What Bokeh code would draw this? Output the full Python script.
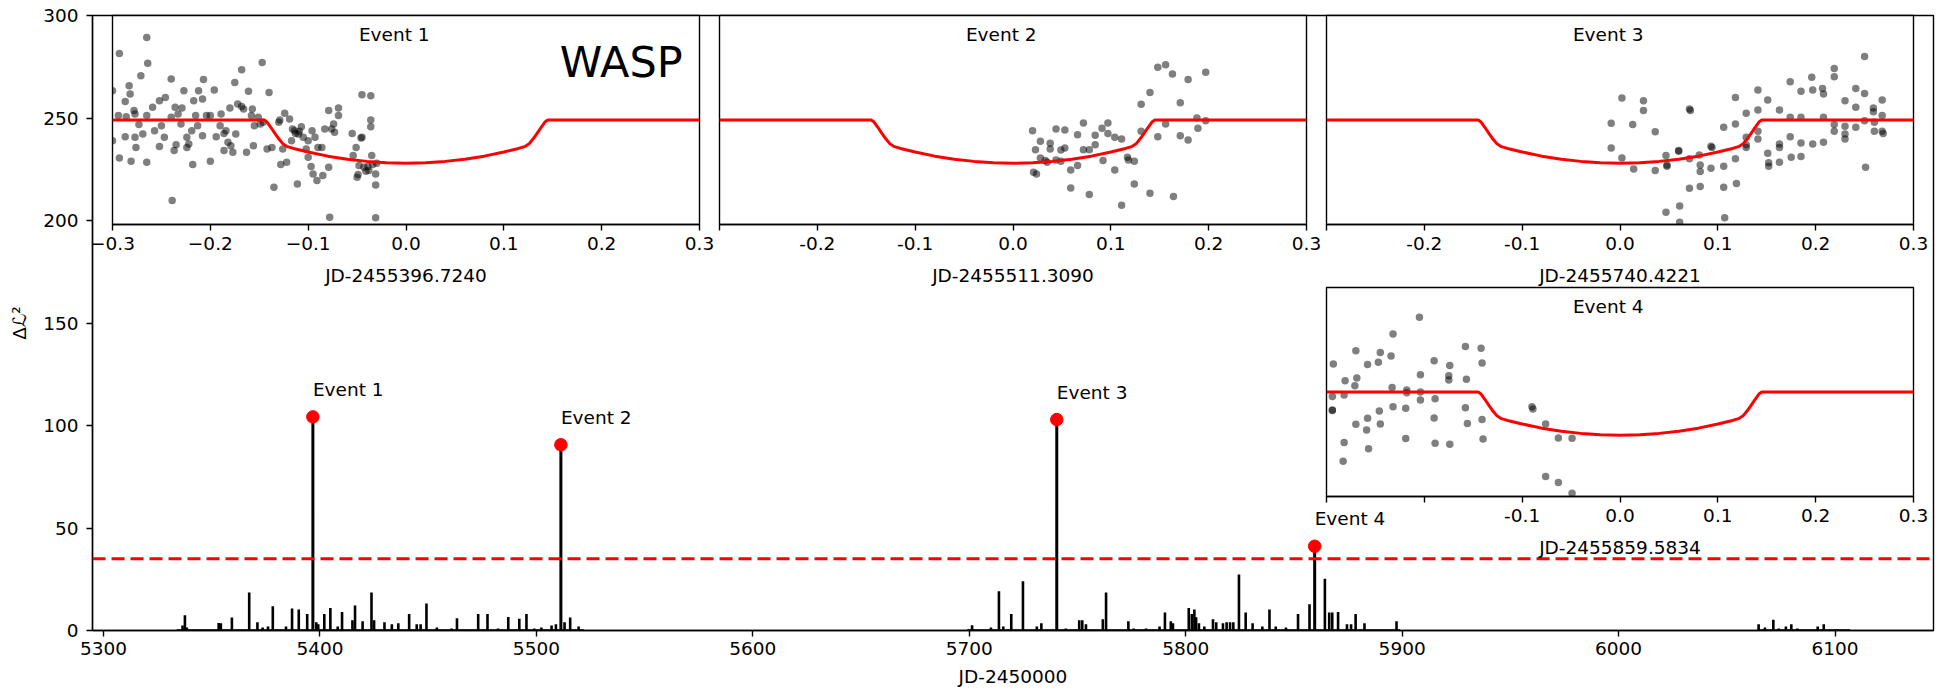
from bokeh.plotting import figure
from bokeh.models import Range1d, Span, Label, FixedTicker, CustomJSTickFormatter, Column
from bokeh.embed import file_html
from bokeh.resources import INLINE
from bokeh.core.properties import value

FONT = "DejaVu Sans"
FS = "18.5px"

# ---------------- main panel data ----------------
x_ticks = [5300, 5400, 5500, 5600, 5700, 5800, 5900, 6000, 6100]
y_ticks = [0, 50, 100, 150, 200, 250, 300]

event_labels = ["Event 1", "Event 2", "Event 3", "Event 4"]
event_t = [5396.724, 5511.309, 5740.4221, 5859.5834]
event_dl2 = [104.2, 90.6, 102.9, 41.1]
threshold = 35.0

spike_t = [
    5336.5, 5337.6, 5338.5, 5353.2, 5354.2, 5359.3, 5367.3, 5371.1, 5373.5, 5376.0,
    5378.2, 5384.3, 5387.1, 5390.2, 5394.1, 5398.3, 5399.2, 5402.0, 5404.8, 5408.2,
    5410.2, 5415.0, 5416.2, 5419.7, 5423.8, 5425.0, 5429.8, 5433.2, 5436.2, 5441.2,
    5444.7, 5446.5, 5449.2, 5454.0, 5460.8, 5463.3, 5473.1, 5477.4, 5482.3, 5487.0,
    5492.1, 5495.4, 5499.0, 5502.3, 5507.0, 5509.0, 5513.0, 5515.6, 5519.5,
    5701.3, 5710.0, 5713.7, 5715.7, 5719.4, 5724.8, 5731.2, 5733.3, 5744.6, 5750.8,
    5752.2, 5753.9, 5761.7, 5763.2, 5773.5, 5776.0, 5781.7, 5787.9, 5790.4, 5793.1,
    5794.1, 5801.4, 5802.8, 5804.0, 5804.8, 5806.1, 5808.6, 5812.6, 5814.1, 5817.2,
    5818.9, 5820.5, 5822.0, 5824.6, 5827.7, 5830.9, 5835.4, 5838.7, 5841.6, 5846.3,
    5851.9, 5857.2, 5864.3, 5866.3, 5867.7, 5870.4, 5874.5, 5876.4, 5878.5, 5882.6,
    5897.4,
    6064.7, 6067.6, 6071.5, 6074.0, 6077.3, 6079.8, 6082.6, 6092.0, 6094.8, 6100.5]
spike_dl2 = [
    2.5, 7.5, 1.5, 3.7, 3.5, 6.4, 18.5, 4.0, 1.5, 2.0,
    11.8, 2.0, 10.7, 10.2, 8.0, 4.0, 3.0, 8.0, 11.0, 2.0,
    9.0, 5.0, 12.2, 4.5, 18.5, 5.0, 4.0, 3.0, 3.5, 8.0,
    3.0, 3.0, 13.2, 1.5, 1.0, 6.0, 8.0, 8.0, 1.0, 6.6,
    5.7, 8.0, 1.0, 1.5, 2.5, 3.0, 4.0, 6.3, 2.0,
    2.6, 1.5, 19.2, 2.0, 8.0, 24.0, 2.0, 3.5, 1.0, 5.0,
    5.0, 3.0, 5.5, 18.5, 4.5, 1.0, 1.0, 2.0, 8.8, 4.5,
    3.5, 11.0, 8.0, 10.2, 6.5, 3.5, 2.0, 5.5, 4.0, 3.5,
    4.0, 4.0, 4.0, 27.3, 8.8, 3.5, 2.0, 10.3, 2.0, 1.5,
    8.0, 12.8, 25.3, 8.8, 8.8, 9.0, 3.0, 3.0, 8.0, 3.5,
    4.5,
    3.0, 1.5, 5.3, 1.0, 2.0, 3.0, 1.0, 2.0, 3.0, 0.5]

cov_start = [5333.8, 5699.0, 6064.0]
cov_end = [5522.0, 5899.0, 6107.0]

# ---------------- inset data (time from mid-event in days, relative flux in ppt) ----------------
inset_ticks = [-0.3, -0.2, -0.1, 0.0, 0.1, 0.2, 0.3]
inset_titles = ["Event 1", "Event 2", "Event 3", "Event 4"]
inset_xlabels = ["JD-2455396.7240", "JD-2455511.3090", "JD-2455740.4221", "JD-2455859.5834"]

model_t = [-0.30, -0.145, -0.142, -0.138, -0.134, -0.130, -0.126, -0.122, -0.115, -0.100,
           -0.080, -0.060, -0.040, -0.020, 0.0, 0.020, 0.040, 0.060, 0.080, 0.100,
           0.115, 0.122, 0.126, 0.130, 0.134, 0.138, 0.142, 0.145, 0.30]
model_v = [0.0, 0.0, -1.0, -3.6, -6.4, -9.0, -11.3, -12.6, -13.6, -15.3,
           -17.3, -18.8, -19.8, -20.5, -20.7, -20.5, -19.8, -18.8, -17.3, -15.3,
           -13.6, -12.6, -11.3, -9.0, -6.4, -3.6, -1.0, 0.0, 0.0]

t1 = [-0.300, -0.300, -0.293, -0.294, -0.293, -0.287, -0.287, -0.286, -0.283, -0.282,
      -0.281, -0.278, -0.277, -0.277, -0.276, -0.273, -0.271, -0.269, -0.265, -0.265,
      -0.264, -0.265, -0.259, -0.257, -0.252, -0.252, -0.250, -0.247, -0.246, -0.240,
      -0.240, -0.239, -0.237, -0.236, -0.235, -0.233, -0.230, -0.229, -0.227, -0.224,
      -0.224, -0.222, -0.219, -0.218, -0.217, -0.215, -0.212, -0.213, -0.208, -0.208,
      -0.207, -0.204, -0.200, -0.200, -0.196, -0.194, -0.190, -0.189, -0.186, -0.186,
      -0.184, -0.182, -0.180, -0.179, -0.177, -0.175, -0.174, -0.172, -0.168, -0.168,
      -0.166, -0.163, -0.161, -0.158, -0.157, -0.156, -0.155, -0.151, -0.149, -0.147,
      -0.146, -0.142, -0.140, -0.137, -0.135, -0.130, -0.129, -0.128, -0.126, -0.124,
      -0.122, -0.119, -0.117, -0.116, -0.114, -0.113, -0.111, -0.110, -0.109, -0.107,
      -0.105, -0.102, -0.100, -0.100, -0.097, -0.096, -0.095, -0.093, -0.091, -0.090,
      -0.086, -0.085, -0.083, -0.079, -0.079, -0.078, -0.076, -0.074, -0.073, -0.069,
      -0.069, -0.055, -0.054, -0.051, -0.050, -0.049, -0.048, -0.046, -0.045, -0.045,
      -0.043, -0.041, -0.039, -0.038, -0.036, -0.036, -0.036, -0.035, -0.034, -0.031,
      -0.031, -0.031, -0.030]
v1 = [14.0, -9.9, 31.8, 2.1, -18.2, 8.9, -8.0, 1.6, 16.4, 12.4,
      -19.7, 4.5, 2.9, -8.3, -13.1, -2.2, 21.2, -6.7, 39.5, 2.1,
      27.1, -20.2, 6.1, -5.1, 9.2, -12.7, -2.7, -8.3, 10.8, 19.6,
      1.3, -38.5, -14.6, 6.1, -11.8, 2.9, -1.9, 5.7, 14.0, -8.3,
      -13.1, -11.5, -5.1, -21.3, 9.2, 2.1, 14.0, -2.7, 10.0, -7.5,
      19.4, 2.1, -19.7, 2.1, 14.3, -8.0, -2.7, 2.9, -6.4, -14.6,
      -5.1, -10.7, 5.7, -12.3, -15.4, 18.0, -6.7, 7.6, 24.0, 6.4,
      5.3, -15.4, 13.7, 2.1, 5.3, -12.3, -2.7, 1.3, -1.9, 27.5,
      -1.1, -13.9, 13.2, -13.1, -32.2, -1.1, 0.0, -21.3, -13.9, 3.2,
      -20.2, 0.5, -9.9, -4.3, -5.1, -6.4, -30.6, -6.7, -5.4, -3.2,
      -8.3, -13.9, -9.9, -17.8, -22.3, -5.1, -25.8, -8.3, -29.0, -13.1,
      -13.1, -26.6, -4.3, 4.5, -22.6, -46.5, -4.3, -1.9, -5.9, 5.7,
      2.1, -6.4, -17.0, -13.1, -27.4, -26.1, -21.8, -8.6, 12.1, -8.3,
      -22.6, -24.5, -22.3, -24.2, 11.6, 0.0, -3.2, -17.0, -21.3, -25.8,
      -31.1, -46.8, -20.7]

t2 = [0.020, 0.023, 0.021, 0.024, 0.028, 0.028, 0.033, 0.035, 0.038, 0.038,
      0.044, 0.044, 0.049, 0.049, 0.053, 0.053, 0.059, 0.059, 0.066, 0.066,
      0.072, 0.072, 0.078, 0.078, 0.084, 0.084, 0.091, 0.092, 0.097, 0.097,
      0.104, 0.104, 0.111, 0.111, 0.117, 0.118, 0.124, 0.124, 0.131, 0.131,
      0.140, 0.140, 0.148, 0.148, 0.156, 0.156, 0.163, 0.164, 0.171, 0.171,
      0.179, 0.179, 0.188, 0.189, 0.197, 0.197]
v2 = [-5.1, -14.2, -25.0, -25.8, -10.2, -18.2, -19.4, -20.2, -11.1, -13.9,
      -4.3, -19.1, -14.3, -19.7, -4.8, -13.4, -23.9, -32.5, -7.0, -21.8,
      -1.4, -14.2, -14.2, -35.7, -7.3, -11.8, -4.0, -19.4, -1.4, -6.4,
      -8.3, -23.9, -9.1, -40.8, -17.8, -19.1, -19.7, -30.6, 7.5, -5.4,
      13.2, -35.0, 25.2, -8.0, 26.4, -1.9, 22.0, -36.6, 8.3, -7.5,
      19.4, -9.6, 1.0, -4.0, 22.8, -0.3]

t3 = [-0.009, -0.009, 0.002, 0.002, 0.013, 0.014, 0.024, 0.024, 0.036, 0.036,
      0.047, 0.047, 0.048, 0.048, 0.060, 0.060, 0.061, 0.061, 0.071, 0.072,
      0.071, 0.071, 0.081, 0.082, 0.082, 0.082, 0.093, 0.094, 0.093, 0.106,
      0.106, 0.106, 0.107, 0.118, 0.118, 0.118, 0.119, 0.129, 0.129, 0.129,
      0.129, 0.141, 0.141, 0.141, 0.141, 0.151, 0.151, 0.152, 0.152, 0.163,
      0.163, 0.163, 0.163, 0.174, 0.174, 0.174, 0.175, 0.185, 0.185, 0.185,
      0.185, 0.196, 0.197, 0.197, 0.207, 0.208, 0.208, 0.208, 0.219, 0.219,
      0.219, 0.219, 0.230, 0.230, 0.230, 0.230, 0.241, 0.241, 0.241, 0.250,
      0.250, 0.250, 0.251, 0.259, 0.259, 0.260, 0.260, 0.268, 0.268, 0.268,
      0.269]
v3 = [-1.6, -13.4, 10.5, -18.2, -2.2, -23.4, 9.2, 4.5, -5.6, -24.2,
      -17.0, -44.1, -21.5, -22.1, -14.6, -15.0, -41.1, -48.9, 5.3, 4.5,
      -18.6, -32.6, -16.7, -21.5, -24.7, -31.8, -12.6, -13.1, -23.1, -3.5,
      -22.1, -32.2, -46.8, 10.8, -1.9, -18.6, -30.4, 3.2, -8.3, -11.8,
      -13.1, 14.3, 4.8, -5.4, -9.1, 9.6, -15.9, -20.5, -22.1, 4.8,
      -11.5, -13.1, -20.2, 18.3, 1.3, -8.0, -17.8, 13.7, 1.3, -11.0,
      -17.5, 20.4, 14.3, -11.5, 15.1, 12.4, 1.3, -10.7, 24.7, 20.7,
      -2.2, -5.4, 9.2, -3.0, -6.7, -9.1, 15.1, 6.1, -3.5, 30.4,
      12.7, -0.3, -22.6, 5.7, 4.0, -1.1, -5.4, 9.6, 2.1, -5.4,
      -6.4]

t4 = [-0.293, -0.294, -0.294, -0.294, -0.282, -0.283, -0.281, -0.282, -0.271, -0.270,
      -0.269, -0.270, -0.258, -0.258, -0.259, -0.257, -0.247, -0.246, -0.245, -0.245,
      -0.234, -0.233, -0.232, -0.232, -0.219, -0.219, -0.218, -0.218, -0.205, -0.204,
      -0.204, -0.204, -0.190, -0.190, -0.189, -0.189, -0.175, -0.175, -0.174, -0.174,
      -0.158, -0.157, -0.158, -0.156, -0.142, -0.141, -0.141, -0.140, -0.090, -0.089,
      -0.076, -0.076, -0.063, -0.063, -0.049, -0.049]
v4 = [13.4, -2.2, -8.6, -8.9, -24.2, -33.1, 5.4, -1.4, 3.0, 19.7,
      6.7, -15.4, 13.2, -12.6, -18.2, -27.1, 14.2, -9.1, 18.9, -15.3,
      17.2, 2.2, -7.0, 27.7, -22.3, -7.8, 1.0, -0.3, 35.8, 8.3,
      0.0, -3.8, 15.0, -12.4, -3.2, -24.5, 7.8, 5.7, 12.7, -25.0,
      21.8, 6.1, -7.5, -15.1, 20.9, 13.9, -13.2, -22.5, -7.0, -8.1,
      -15.3, -40.4, -22.0, -43.3, -22.1, -48.4]

# ---------------- styling helpers ----------------
W, H = 1959, 692


def style_axis(ax, label_standoff=6, axis_standoff=6):
    ax.major_tick_out = 6
    ax.major_tick_in = 0
    ax.minor_tick_out = 0
    ax.minor_tick_in = 0
    ax.axis_line_color = "black"
    ax.axis_line_width = 1.4
    ax.major_tick_line_color = "black"
    ax.major_tick_line_width = 1.4
    ax.major_label_text_font = FONT
    ax.major_label_text_font_size = FS
    ax.major_label_text_color = "black"
    ax.major_label_standoff = label_standoff
    ax.axis_label_text_font = FONT
    ax.axis_label_text_font_size = FS
    ax.axis_label_text_font_style = "normal"
    ax.axis_label_text_color = "black"
    ax.axis_label_standoff = axis_standoff


# shared horizontal borders (Bokeh aligns frames of plots in one column)
BL, BR = 92, 26

# ---------------- main panel ----------------
main = figure(width=W, height=H, x_range=Range1d(5294.9, 6145.5), y_range=Range1d(0, 300),
              output_backend="svg", toolbar_location=None, title=None,
              min_border_left=BL, min_border_right=BR, min_border_top=15, min_border_bottom=62)
main.grid.visible = False
main.outline_line_color = "black"
main.outline_line_width = 1.4
main.background_fill_color = "white"
main.border_fill_color = "white"
main.xaxis.ticker = FixedTicker(ticks=x_ticks)
main.yaxis.ticker = FixedTicker(ticks=y_ticks)
main.xaxis.axis_label = "JD-2450000"
main.yaxis.axis_label = "Δℒ²"
style_axis(main.xaxis[0], 5, 8)
style_axis(main.yaxis[0], 8, 10)

main.segment(x0=cov_start, y0=0, x1=cov_end, y1=0, line_color="black", line_width=2.6)
main.segment(x0=spike_t, y0=0, x1=spike_t, y1=spike_dl2, line_color="black", line_width=2.6)
main.segment(x0=event_t, y0=0, x1=event_t, y1=event_dl2, line_color="black", line_width=3)
main.add_layout(Span(location=threshold, dimension="width", line_color="red",
                     line_dash="13 6", line_width=3))
main.scatter(event_t, event_dl2, size=12.5, fill_color="red", line_color="red")
main.text(x=event_t, y=[d + 13.4 for d in event_dl2], text=event_labels,
          text_font=value(FONT), text_font_size=FS, text_align="left",
          text_baseline="alphabetic", text_color="black")

# ---------------- insets ----------------
IT, IB = 4, 75
IFW, IFH = 587, 209

fmt_minus = "return (tick < -1e-9 ? '\u2212' : '') + Math.abs(tick).toFixed(1);"
fmt_skip1 = "return tick < -0.25 ? '' : tick.toFixed(1);"
fmt_skip2 = "return tick < -0.15 ? '' : tick.toFixed(1);"


def make_inset(t, v, idx, fmt, frame_left, frame_top):
    f = figure(width=BL + IFW + BR, height=IT + IFH + IB,
               x_range=Range1d(-0.3, 0.3), y_range=Range1d(-50, 50),
               output_backend="svg", toolbar_location=None, title=None, y_axis_location=None,
               min_border_left=BL, min_border_right=BR, min_border_top=IT, min_border_bottom=IB)
    f.grid.visible = False
    f.background_fill_color = "white"
    f.border_fill_color = None
    f.outline_line_color = "black"
    f.outline_line_width = 1.4
    ax = f.xaxis[0]
    ax.ticker = FixedTicker(ticks=inset_ticks)
    ax.formatter = CustomJSTickFormatter(code=fmt)
    ax.axis_label = inset_xlabels[idx]
    style_axis(ax, 6, 12)
    f.scatter(t, v, size=7.5, fill_color="black", fill_alpha=0.5, line_color=None)
    f.line(model_t, model_v, line_color="red", line_width=3)
    f.add_layout(Label(x=-0.012, y=40.8, text=inset_titles[idx], text_align="center",
                       text_baseline="alphabetic", text_font=FONT, text_font_size=FS,
                       text_color="black"))
    f.styles = {"position": "absolute", "left": f"{frame_left - BL}px",
                "top": f"{frame_top - IT}px"}
    return f


ins1 = make_inset(t1, v1, 0, fmt_minus, 112, 15)
ins1.add_layout(Label(x=0.22, y=27.6, text="WASP", text_align="center",
                      text_baseline="alphabetic", text_font=FONT, text_font_size="43px",
                      text_color="black"))
ins2 = make_inset(t2, v2, 1, fmt_skip1, 719, 15)
ins3 = make_inset(t3, v3, 2, fmt_skip1, 1326, 15)
ins4 = make_inset(t4, v4, 3, fmt_skip2, 1326, 287)

p = Column(children=[main, ins1, ins2, ins3, ins4], width=W, height=H,
           styles={"position": "relative"})

open("out.html", "w").write(file_html(p, INLINE))
